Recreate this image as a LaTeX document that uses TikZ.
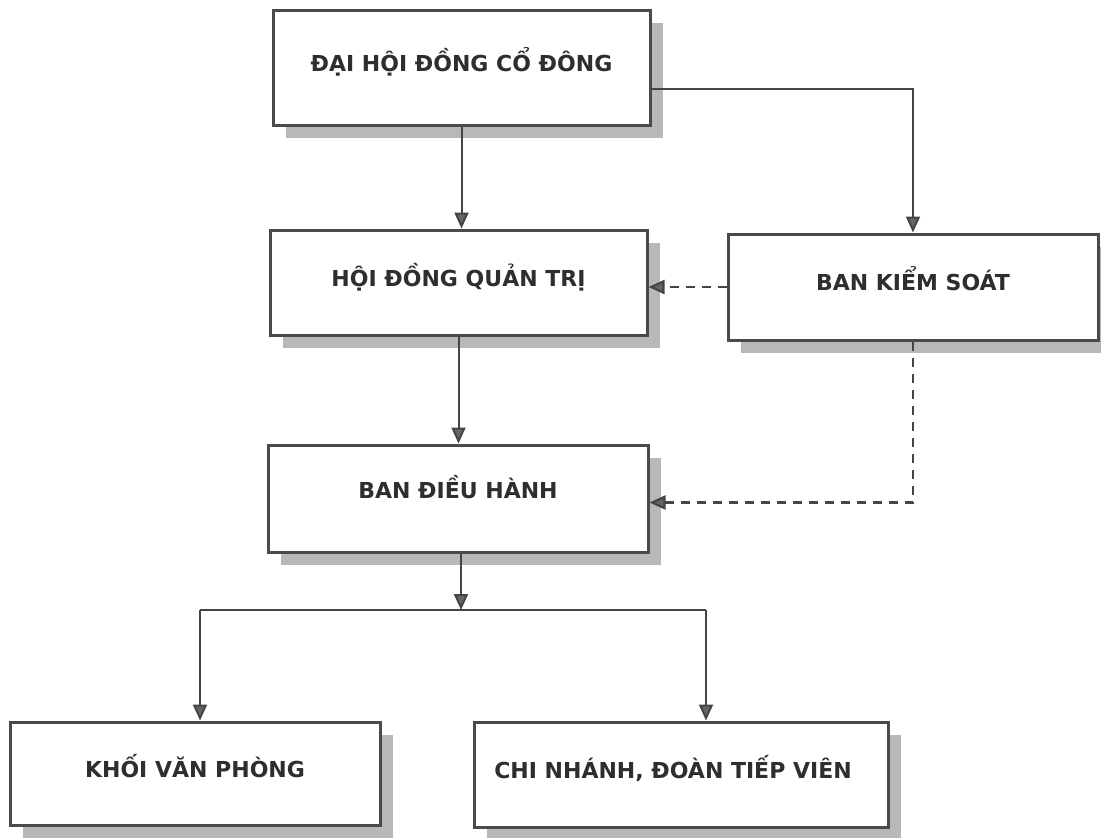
\documentclass[tikz,border=0pt]{standalone}
\usepackage{fontspec}
\setmainfont{DejaVu Sans}
\usetikzlibrary{arrows.meta,shadows}
\definecolor{boxc}{HTML}{4A4A4A}
\definecolor{shadowc}{HTML}{B8B8B8}
\definecolor{linec}{HTML}{454545}
\definecolor{tipc}{HTML}{666666}
\definecolor{textc}{HTML}{2E2E2E}
\newcommand{\boxtext}[2][-3.5pt]{\raisebox{#1}[0pt][0pt]{#2}}
\begin{document}
\begin{tikzpicture}[x=1pt,y=-1pt,
  orgbox/.style={draw=boxc, line width=3pt, fill=white, rectangle,
    drop shadow={shadow xshift=13pt, shadow yshift=-13pt, fill=shadowc, opacity=1},
    font=\bfseries\fontsize{22}{24}\selectfont, text=textc, inner sep=0pt},
  conn/.style={draw=linec, line width=2pt, -{Triangle[width=14pt,length=16pt,fill=tipc]}},
  plain/.style={draw=linec, line width=2pt},
  dashconn/.style={draw=linec, line width=2.2pt, dash pattern=on 9pt off 7pt,
    -{Triangle[width=14pt,length=16pt,fill=tipc]}}
]
\useasboundingbox (0,0) rectangle (1101,838);
\fill[white] (0,0) rectangle (1101,838);

\node[orgbox, minimum width=377pt, minimum height=115pt] (dh) at (461.5,67.5) {\boxtext{ĐẠI HỘI ĐỒNG CỔ ĐÔNG}};
\node[orgbox, minimum width=377pt, minimum height=105pt] (hd) at (458.5,282.5) {\boxtext{HỘI ĐỒNG QUẢN TRỊ}};
\node[orgbox, minimum width=370pt, minimum height=106pt] (bks) at (913,287) {\boxtext{BAN KIỂM SOÁT}};
\node[orgbox, minimum width=380pt, minimum height=107pt] (bdh) at (458,498.5) {\boxtext[0.5pt]{BAN ĐIỀU HÀNH}};
\node[orgbox, minimum width=370pt, minimum height=103pt] (kvp) at (195,773.5) {\boxtext{KHỐI VĂN PHÒNG}};
\node[orgbox, minimum width=414pt, minimum height=105pt] (cn) at (681,774.5) {\boxtext{\hspace*{-16pt}CHI NHÁNH, ĐOÀN TIẾP VIÊN}};

\coordinate (j) at (461,610);
\coordinate (jl) at (200,610);
\coordinate (jr) at (706,610);

\draw[conn] (dh.south) -- (dh.south |- hd.north);
\draw[conn] ([yshift=-21pt]dh.east) -| (bks.north);
\draw[dashconn] (bks.west) -- (bks.west -| hd.east);
\draw[conn] (hd.south) -- (hd.south |- bdh.north);
\draw[dashconn] (bks.south) |- ([yshift=-4pt]bdh.east);
\draw[conn] (bdh.south -| j) -- (j);
\draw[plain] (jl) -- (jr);
\draw[conn] (jl) -- (jl |- kvp.north);
\draw[conn] (jr) -- (jr |- cn.north);
\end{tikzpicture}
\end{document}
